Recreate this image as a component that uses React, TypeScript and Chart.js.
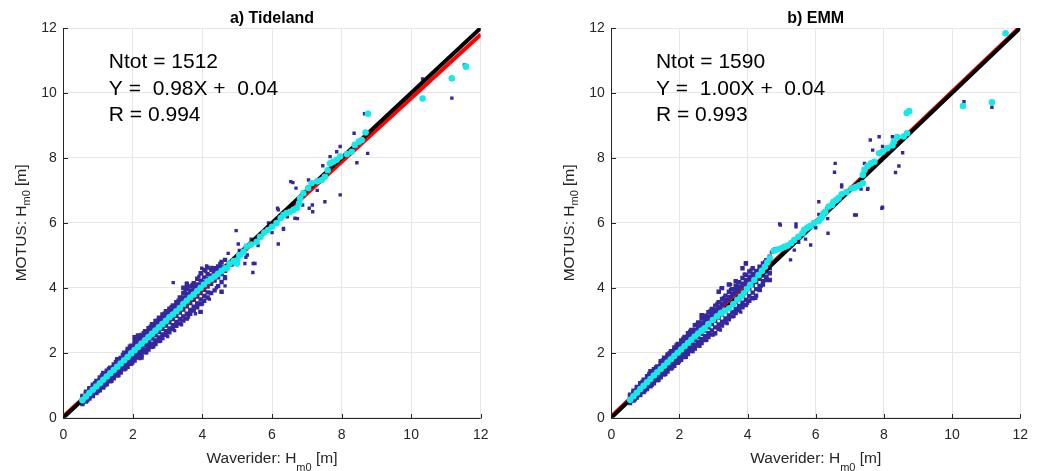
import React, { useEffect, useRef } from "react";
import { Chart, registerables } from "chart.js";

Chart.register(...registerables);

const FONT = '"Liberation Sans", Arial, Helvetica, sans-serif';

// ---- panel meta ----
const panelTitles = ["a) Tideland", "b) EMM"];
const sampleCounts = [1512, 1590];
const fitSlopes = [0.98, 1.0];
const fitIntercepts = [0.04, 0.04];
const correlations = [0.994, 0.993];
const axisTicks = [0, 2, 4, 6, 8, 10, 12];
const lineEnds = [0, 12];

type Band = [number, number[]][];
type Pts = [number, number][];

// ---- a) Tideland: dense cloud columns (x -> y values) ----
const tidelandBand: Band = [
  [0.55, [0.42, 0.46, 0.63, 0.67]],
  [0.65, [0.5, 0.55, 0.75, 0.8]],
  [0.75, [0.59, 0.64, 0.86, 0.91]],
  [0.85, [0.67, 0.74, 0.96, 1.02]],
  [0.95, [0.76, 0.84, 1.06, 1.13]],
  [1.05, [0.84, 0.94, 1.16, 1.24]],
  [1.15, [0.93, 1.04, 1.26, 1.34, 1.38]],
  [1.25, [1.03, 1.14, 1.36, 1.45]],
  [1.35, [1.12, 1.18, 1.25, 1.46, 1.54]],
  [1.45, [1.21, 1.27, 1.34, 1.56, 1.64]],
  [1.55, [1.3, 1.37, 1.44, 1.66, 1.74, 1.8]],
  [1.65, [1.39, 1.46, 1.54, 1.76, 1.84]],
  [1.75, [1.49, 1.56, 1.64, 1.87, 1.94, 2.0]],
  [1.85, [1.57, 1.66, 1.74, 1.97, 2.05, 2.12]],
  [1.95, [1.66, 1.75, 1.84, 2.07, 2.15, 2.22]],
  [2.05, [1.76, 1.85, 1.94, 2.17, 2.26, 2.36, 2.48]],
  [2.15, [1.85, 1.95, 2.04, 2.27, 2.36, 2.45, 2.53]],
  [2.25, [1.85, 1.94, 2.04, 2.14, 2.37, 2.46, 2.55]],
  [2.35, [2.01, 2.1, 2.24, 2.47, 2.56, 2.66]],
  [2.45, [2.1, 2.2, 2.34, 2.57, 2.66, 2.76]],
  [2.55, [2.18, 2.28, 2.44, 2.67, 2.77, 2.88]],
  [2.65, [2.27, 2.38, 2.54, 2.77, 2.87, 2.98]],
  [2.75, [2.36, 2.47, 2.64, 2.87, 2.97, 3.08]],
  [2.85, [2.45, 2.56, 2.74, 2.97, 3.07, 3.18]],
  [2.95, [2.55, 2.66, 2.84, 3.07, 3.17, 3.28]],
  [3.05, [2.63, 2.75, 2.94, 3.17, 3.27, 3.36]],
  [3.15, [2.73, 2.85, 3.04, 3.27, 3.37, 3.46]],
  [3.25, [2.83, 2.95, 3.14, 3.37, 3.47, 3.56]],
  [3.35, [2.9, 3.04, 3.24, 3.47, 3.57, 3.7]],
  [3.45, [2.99, 3.12, 3.33, 3.58, 3.7, 3.84, 4.0]],
  [3.55, [3.05, 3.2, 3.43, 3.68, 3.8, 3.95, 4.12]],
  [3.65, [3.2, 3.32, 3.53, 3.78, 3.9, 4.04]],
  [3.75, [3.3, 3.42, 3.63, 3.88, 4.0, 4.14]],
  [3.85, [3.4, 3.52, 3.73, 3.98, 4.1, 4.28]],
  [3.95, [3.26, 3.5, 3.64, 3.84, 4.08, 4.22, 4.45]],
  [4.05, [3.6, 3.75, 3.94, 4.18, 4.32, 4.55]],
  [4.15, [3.7, 3.86, 4.04, 4.28, 4.42, 4.62]],
  [4.25, [3.84, 4.12, 4.38, 4.56]],
  [4.35, [3.92, 4.22, 4.48, 4.6]],
  [4.45, [4.05, 4.32, 4.58, 4.66]],
  [4.55, [3.88, 4.18, 4.42, 4.66, 4.8]],
  [4.65, [4.3, 4.52, 4.86]],
];

const tidelandOutliers: Pts = [
  [3.16, 4.16], [3.5, 3.06], [3.4, 3.68], [3.64, 3.78], [3.55, 4.14], [3.55, 4.04], [3.79, 4.04],
  [3.93, 3.26], [3.98, 4.6], [3.98, 4.44], [4.27, 4.63], [4.27, 4.54], [4.31, 4.5], [4.45, 4.6],
  [4.12, 4.67], [4.55, 4.65], [4.55, 3.88], [4.65, 4.06], [4.65, 4.34], [4.74, 5.06], [4.85, 4.7],
  [4.97, 5.76], [5.03, 5.35], [5.06, 5.15], [5.22, 4.75], [5.25, 4.94], [5.29, 5.01], [5.46, 4.75],
  [5.45, 4.47], [5.51, 4.75], [5.82, 5.78], [5.6, 5.3], [5.7, 5.55], [5.9, 6.0], [6.0, 5.7],
  [5.4, 5.5], [6.18, 5.35], [6.33, 5.83], [6.33, 5.8], [6.16, 6.45], [6.18, 6.4], [6.44, 6.19],
  [6.66, 6.14], [6.73, 6.13], [6.54, 7.27], [6.69, 7.07], [6.6, 7.24], [6.88, 6.55], [7.07, 6.45],
  [7.16, 6.55], [7.17, 6.34], [7.52, 6.65], [7.96, 6.86], [7.05, 7.32], [7.46, 7.76], [7.67, 8.04],
  [7.86, 8.19], [7.96, 8.35], [8.36, 8.76], [8.44, 7.85], [8.75, 8.14], [8.66, 9.36], [7.3, 7.0],
  [7.8, 7.9], [10.33, 10.43], [11.17, 9.84], [11.53, 10.86],
  // ragged edge of the dense cloud
  [0.7, 0.52], [0.9, 1.08], [1.0, 0.8], [1.1, 1.32], [1.2, 0.98], [1.3, 1.52], [1.4, 1.12],
  [1.5, 1.73], [1.6, 1.3], [1.7, 1.95], [1.8, 1.5], [1.9, 2.2], [2.0, 1.68], [2.1, 2.5],
  [2.2, 1.82], [2.3, 2.62], [2.4, 2.0], [2.5, 2.82], [2.6, 2.18], [2.7, 3.0], [2.8, 2.36],
  [2.9, 3.22], [3.0, 2.5], [3.1, 3.42], [3.2, 2.68], [3.3, 3.62], [3.4, 2.86], [3.5, 3.9],
  [3.6, 3.1], [3.7, 4.1], [3.8, 3.2], [3.9, 4.35], [4.0, 3.5], [4.1, 4.5], [4.2, 3.65],
  [4.4, 4.0], [4.5, 4.75],
];

const tidelandQuantiles: Pts = [
  [0.55, 0.54], [0.65, 0.65], [0.75, 0.76], [0.85, 0.86], [0.95, 0.96], [1.05, 1.06], [1.15, 1.17],
  [1.25, 1.27], [1.35, 1.37], [1.45, 1.47], [1.55, 1.57], [1.65, 1.67], [1.75, 1.77], [1.85, 1.87],
  [1.95, 1.98], [2.05, 2.08], [2.15, 2.18], [2.25, 2.28], [2.35, 2.38], [2.45, 2.48], [2.55, 2.58],
  [2.65, 2.68], [2.75, 2.78], [2.85, 2.88], [2.95, 2.98], [3.05, 3.09], [3.15, 3.18], [3.25, 3.28],
  [3.35, 3.38], [3.45, 3.5], [3.55, 3.6], [3.65, 3.7], [3.75, 3.79], [3.85, 3.9], [3.95, 4.0],
  [4.05, 4.1], [4.15, 4.2], [4.25, 4.27], [4.35, 4.35], [4.45, 4.43], [4.55, 4.52], [4.65, 4.6],
  [4.7, 4.6], [4.78, 4.75], [4.9, 4.82], [4.99, 4.75], [5.06, 5.01], [5.0, 4.85], [5.08, 5.0],
  [5.18, 5.11], [5.27, 5.27], [5.4, 5.33], [5.56, 5.42], [5.66, 5.57], [5.78, 5.7], [5.89, 5.78],
  [6.0, 5.88], [6.13, 5.99], [6.25, 6.15], [6.33, 6.24], [6.42, 6.3], [6.52, 6.34], [6.62, 6.4],
  [6.71, 6.45], [6.78, 6.6], [6.81, 6.76], [6.9, 6.91], [7.04, 7.07], [7.14, 7.22], [7.3, 7.28],
  [7.43, 7.32], [7.52, 7.42], [7.6, 7.62], [7.67, 7.83], [7.76, 7.88], [7.86, 7.94], [7.96, 8.04],
  [8.15, 8.12], [8.29, 8.19], [8.38, 8.4], [8.5, 8.5], [8.58, 8.55], [8.69, 8.78], [8.76, 9.36],
  [10.33, 9.83], [11.17, 10.45], [11.58, 10.81],
];

// ---- b) EMM ----
const emmBand: Band = [
  [0.55, [0.45, 0.49, 0.67, 0.71]],
  [0.65, [0.53, 0.58, 0.78, 0.83]],
  [0.75, [0.62, 0.68, 0.89, 0.95]],
  [0.85, [0.7, 0.77, 0.99, 1.06]],
  [0.95, [0.79, 0.87, 1.1, 1.17]],
  [1.05, [0.88, 0.97, 1.2, 1.28]],
  [1.15, [0.97, 1.07, 1.3, 1.38, 1.43]],
  [1.25, [1.06, 1.17, 1.4, 1.49]],
  [1.35, [1.15, 1.21, 1.29, 1.5, 1.58]],
  [1.45, [1.24, 1.3, 1.38, 1.6, 1.68, 1.74]],
  [1.55, [1.33, 1.4, 1.48, 1.7, 1.78, 1.85]],
  [1.65, [1.42, 1.5, 1.58, 1.8, 1.88, 1.95]],
  [1.75, [1.51, 1.59, 1.68, 1.91, 1.98, 2.05]],
  [1.85, [1.6, 1.69, 1.78, 2.01, 2.09, 2.16]],
  [1.95, [1.69, 1.78, 1.88, 2.11, 2.19, 2.27]],
  [2.05, [1.78, 1.88, 1.98, 2.21, 2.29, 2.38]],
  [2.15, [1.87, 1.97, 2.08, 2.31, 2.39, 2.49]],
  [2.25, [1.96, 2.06, 2.18, 2.41, 2.5, 2.6]],
  [2.35, [2.05, 2.15, 2.28, 2.51, 2.6, 2.7]],
  [2.45, [2.13, 2.24, 2.38, 2.61, 2.71, 2.85]],
  [2.55, [2.22, 2.33, 2.48, 2.71, 2.81, 2.93]],
  [2.65, [2.3, 2.42, 2.58, 2.81, 2.92, 3.05, 3.16]],
  [2.75, [2.39, 2.51, 2.68, 2.91, 3.02, 3.14]],
  [2.85, [2.48, 2.6, 2.78, 3.01, 3.12, 3.25]],
  [2.95, [2.56, 2.69, 2.88, 3.11, 3.22, 3.35]],
  [3.05, [2.6, 2.78, 2.98, 3.21, 3.32, 3.45]],
  [3.15, [2.74, 2.87, 3.08, 3.31, 3.42, 3.56, 3.88]],
  [3.25, [2.84, 2.96, 3.18, 3.41, 3.52, 3.66, 3.99]],
  [3.35, [2.94, 3.06, 3.28, 3.51, 3.62, 3.76]],
  [3.45, [3.03, 3.15, 3.38, 3.61, 3.72, 3.88, 4.1]],
  [3.55, [3.12, 3.25, 3.48, 3.71, 3.83, 3.96]],
  [3.65, [3.22, 3.35, 3.58, 3.81, 3.93, 4.06, 4.2]],
  [3.75, [3.31, 3.44, 3.68, 3.91, 4.03, 4.17]],
  [3.85, [3.4, 3.54, 3.78, 4.01, 4.13, 4.3, 4.6]],
  [3.95, [3.47, 3.63, 3.88, 4.11, 4.24, 4.4, 4.75]],
  [4.05, [3.6, 3.74, 3.98, 4.21, 4.34, 4.5]],
  [4.15, [3.68, 3.85, 4.08, 4.31, 4.43, 4.6]],
  [4.25, [3.76, 3.96, 4.18, 4.41, 4.52]],
  [4.35, [3.93, 4.06, 4.28, 4.51, 4.65]],
  [4.45, [4.1, 4.2, 4.38, 4.61, 4.75]],
  [4.55, [4.24, 4.34, 4.5, 4.73, 4.85]],
  [4.65, [4.24, 4.45, 4.6, 4.85, 4.96]],
];

const emmOutliers: Pts = [
  [3.17, 3.88], [3.22, 3.99], [3.5, 4.1], [3.55, 3.96], [3.89, 3.47], [3.94, 4.75], [3.96, 4.77],
  [4.13, 3.68], [4.24, 3.68], [4.37, 3.93], [4.56, 4.34], [4.65, 4.24], [4.65, 4.45], [4.7, 5.1],
  [4.94, 5.97], [4.96, 5.93], [5.26, 4.86], [5.37, 5.16], [5.42, 5.97], [5.42, 5.88], [5.85, 5.32],
  [5.5, 5.4], [5.7, 5.5], [4.8, 5.2], [6.0, 5.85], [6.09, 6.65], [6.09, 6.26], [6.33, 6.45],
  [6.35, 6.13], [6.36, 5.68], [6.55, 7.56], [6.57, 7.83], [6.76, 7.11], [6.76, 7.17], [7.14, 6.24],
  [7.19, 6.24], [7.29, 7.32], [7.33, 7.04], [7.52, 7.03], [7.53, 7.06], [7.43, 7.83], [7.6, 8.55],
  [7.67, 8.24], [7.86, 8.65], [7.96, 8.35], [7.94, 6.45], [7.96, 6.48], [8.25, 8.65], [8.34, 7.55],
  [8.44, 7.75], [8.55, 8.16], [8.68, 9.37], [10.35, 9.73], [11.17, 9.56],
  // ragged edge of the dense cloud
  [0.7, 0.55], [0.9, 1.12], [1.0, 0.83], [1.1, 1.36], [1.2, 1.0], [1.3, 1.56], [1.4, 1.15],
  [1.5, 1.78], [1.6, 1.34], [1.7, 2.0], [1.8, 1.53], [1.9, 2.24], [2.0, 1.72], [2.1, 2.45],
  [2.2, 1.86], [2.3, 2.66], [2.4, 2.04], [2.5, 2.88], [2.6, 2.2], [2.7, 3.1], [2.8, 2.38],
  [2.9, 3.3], [3.0, 2.55], [3.1, 3.52], [3.2, 2.7], [3.3, 3.7], [3.4, 2.9], [3.5, 3.95],
  [3.6, 3.12], [3.7, 4.15], [3.8, 3.25], [3.9, 4.42], [4.0, 3.52], [4.1, 4.55], [4.2, 3.7],
  [4.4, 4.05], [4.5, 4.8],
];

const emmQuantiles: Pts = [
  [0.55, 0.55], [0.65, 0.66], [0.75, 0.77], [0.85, 0.88], [0.95, 0.98], [1.05, 1.09], [1.15, 1.19],
  [1.25, 1.3], [1.35, 1.4], [1.45, 1.5], [1.55, 1.6], [1.65, 1.7], [1.75, 1.8], [1.85, 1.9],
  [1.95, 2.0], [2.05, 2.1], [2.15, 2.2], [2.25, 2.3], [2.35, 2.4], [2.45, 2.5], [2.55, 2.59],
  [2.65, 2.68], [2.74, 2.75], [2.85, 2.88], [2.98, 3.01], [3.1, 3.12], [3.22, 3.22], [3.34, 3.3],
  [3.46, 3.37], [3.58, 3.5], [3.7, 3.63], [3.8, 3.73], [3.89, 3.83], [3.98, 3.96], [4.08, 4.09],
  [4.2, 4.24], [4.32, 4.39], [4.42, 4.52], [4.51, 4.65], [4.58, 4.78], [4.65, 4.91], [4.77, 5.14],
  [4.88, 5.18], [4.99, 5.22], [5.08, 5.26], [5.18, 5.3], [5.28, 5.38], [5.37, 5.47], [5.49, 5.57],
  [5.61, 5.68], [5.66, 5.78], [5.73, 5.83], [5.8, 5.88], [5.85, 5.9], [5.95, 5.99], [6.09, 6.06],
  [6.15, 6.14], [6.19, 6.19], [6.23, 6.3], [6.28, 6.34], [6.38, 6.5], [6.48, 6.55], [6.52, 6.65],
  [6.6, 6.7], [6.67, 6.76], [6.76, 6.88], [6.9, 6.95], [7.05, 7.06], [7.14, 7.08], [7.19, 7.11],
  [7.28, 7.16], [7.38, 7.22], [7.38, 7.47], [7.43, 7.63], [7.52, 7.75], [7.62, 7.83], [7.72, 7.88],
  [7.86, 8.14], [7.96, 8.19], [8.1, 8.3], [8.25, 8.38], [8.29, 8.49], [8.39, 8.64], [8.58, 8.66],
  [8.68, 8.76], [8.67, 9.38], [8.74, 9.44], [10.32, 9.6], [11.17, 9.71], [11.57, 11.84],
];

const panelBands = [tidelandBand, emmBand];
const panelOutliers = [tidelandOutliers, emmOutliers];
const panelQuantiles = [tidelandQuantiles, emmQuantiles];

// ---- styling / layout ----
const NAVY = "#36289c";
const CYAN = "#19e8e8";
const AXIS = "#262626";
const GRID = "#e6e6e6";
const H = 471;
const PLOT_TOP = 28;
const PLOT_BOTTOM = 417.7;
const GEOM = [
  { left: 0, width: 520, plotLeft: 63.3, plotRight: 480.7 },
  { left: 520, width: 517, plotLeft: 91.3, plotRight: 509 },
];

function drawSubLabel(
  ctx: CanvasRenderingContext2D,
  main: string,
  sub: string,
  tail: string,
  cx: number,
  baseline: number,
  subBaseline: number
) {
  const mainFont = `15.5px ${FONT}`;
  const subFont = `11px ${FONT}`;
  ctx.font = mainFont;
  const w1 = ctx.measureText(main).width;
  const w3 = ctx.measureText(tail).width;
  ctx.font = subFont;
  const w2 = ctx.measureText(sub).width;
  let x = cx - (w1 + w2 + w3) / 2;
  ctx.textAlign = "left";
  ctx.textBaseline = "alphabetic";
  ctx.font = mainFont;
  ctx.fillText(main, x, baseline);
  x += w1;
  ctx.font = subFont;
  ctx.fillText(sub, x, subBaseline);
  x += w2;
  ctx.font = mainFont;
  ctx.fillText(tail, x, baseline);
}

function Panel({ idx }: { idx: number }) {
  const ref = useRef<HTMLCanvasElement | null>(null);

  useEffect(() => {
    const canvas = ref.current;
    if (!canvas) return;
    const g = GEOM[idx];
    const dense = panelBands[idx].flatMap(([x, ys]) => ys.map((y) => ({ x, y })));
    const sparse = panelOutliers[idx].map(([x, y]) => ({ x, y }));
    const quant = panelQuantiles[idx].map(([x, y]) => ({ x, y }));
    const fitLine = lineEnds.map((x) => ({ x, y: fitSlopes[idx] * x + fitIntercepts[idx] }));
    const oneToOne = lineEnds.map((x) => ({ x, y: x }));

    const deco = {
      id: "deco" + idx,
      beforeDatasetsDraw(chart: any) {
        const { ctx, chartArea } = chart;
        const xs = chart.scales.x;
        const ys = chart.scales.y;
        const L = Math.round(chartArea.left) + 0.5;
        const B = Math.round(chartArea.bottom) + 0.5;
        ctx.save();
        ctx.strokeStyle = AXIS;
        ctx.lineWidth = 1;
        ctx.beginPath();
        ctx.moveTo(L, chartArea.top);
        ctx.lineTo(L, B);
        ctx.lineTo(chartArea.right, B);
        for (const v of axisTicks) {
          const px = Math.round(xs.getPixelForValue(v)) + 0.5;
          ctx.moveTo(px, B);
          ctx.lineTo(px, B - 4.5);
          const py = Math.round(ys.getPixelForValue(v)) + 0.5;
          ctx.moveTo(L, py);
          ctx.lineTo(L + 4.5, py);
        }
        ctx.stroke();
        ctx.restore();
      },
      afterDraw(chart: any) {
        const { ctx, chartArea } = chart;
        const xs = chart.scales.x;
        const cx = (chartArea.left + chartArea.right) / 2;
        const cy = (chartArea.top + chartArea.bottom) / 2;
        ctx.save();
        // title
        ctx.fillStyle = "#000";
        ctx.font = `bold 16px ${FONT}`;
        ctx.textAlign = "center";
        ctx.textBaseline = "alphabetic";
        ctx.fillText(panelTitles[idx], cx, 22.5);
        // annotation
        ctx.font = `21px ${FONT}`;
        ctx.textAlign = "left";
        const tx = xs.getPixelForValue(1.31);
        const lines = [
          `Ntot = ${sampleCounts[idx]}`,
          `Y =  ${fitSlopes[idx].toFixed(2)}X +  ${fitIntercepts[idx].toFixed(2)}`,
          `R = ${correlations[idx].toFixed(3)}`,
        ];
        const offs = [40, 67, 93];
        lines.forEach((t, i) => ctx.fillText(t, tx, chartArea.top + offs[i]));
        // x axis label
        ctx.fillStyle = AXIS;
        drawSubLabel(ctx, "Waverider: H", "m0", " [m]", cx, 463.3, 471);
        // y axis label (rotated)
        ctx.translate(g.plotLeft - 37.5, cy);
        ctx.rotate(-Math.PI / 2);
        drawSubLabel(ctx, "MOTUS: H", "m0", " [m]", 0, 0, 4.5);
        ctx.restore();
      },
    };

    const tickOpts = {
      font: { family: FONT, size: 14 },
      color: AXIS,
      maxRotation: 0,
      autoSkip: false,
    };

    const chart = new Chart(canvas, {
      type: "scatter",
      data: {
        datasets: [
          {
            label: "quantiles",
            data: quant,
            order: 0,
            pointStyle: "circle",
            pointRadius: 3.3,
            backgroundColor: CYAN,
            borderWidth: 0,
          },
          {
            label: "1:1",
            data: oneToOne,
            order: 1,
            showLine: true,
            borderColor: "#000000",
            borderWidth: 4,
            pointRadius: 0,
          },
          {
            label: "fit",
            data: fitLine,
            order: 2,
            showLine: true,
            borderColor: "#ff0000",
            borderWidth: 4,
            pointRadius: 0,
          },
          {
            label: "data (sparse)",
            data: sparse,
            order: 3,
            pointStyle: "rect",
            pointRadius: 2.4,
            backgroundColor: NAVY,
            borderWidth: 0,
          },
          {
            label: "data (dense)",
            data: dense,
            order: 4,
            pointStyle: "rect",
            pointRadius: 3.1,
            backgroundColor: NAVY,
            borderWidth: 0,
          },
        ],
      } as any,
      options: {
        responsive: false,
        animation: false,
        events: [],
        layout: {
          padding: { top: PLOT_TOP, right: g.width - g.plotRight, bottom: 0, left: 0 },
        },
        plugins: {
          legend: { display: false },
          tooltip: { enabled: false },
          title: { display: false },
        },
        scales: {
          x: {
            type: "linear",
            min: 0,
            max: 12,
            afterBuildTicks: (s: any) => {
              s.ticks = axisTicks.map((v) => ({ value: v }));
            },
            afterFit: (s: any) => {
              s.height = H - PLOT_BOTTOM;
            },
            ticks: { ...tickOpts, padding: 9 },
            grid: { color: GRID, lineWidth: 1, drawTicks: false },
            border: { display: false },
          },
          y: {
            type: "linear",
            min: 0,
            max: 12,
            afterBuildTicks: (s: any) => {
              s.ticks = axisTicks.map((v) => ({ value: v }));
            },
            afterFit: (s: any) => {
              s.width = g.plotLeft;
            },
            ticks: { ...tickOpts, padding: 6.5 },
            grid: { color: GRID, lineWidth: 1, drawTicks: false },
            border: { display: false },
          },
        },
      } as any,
      plugins: [deco],
    });
    return () => chart.destroy();
  }, [idx]);

  const g = GEOM[idx];
  return (
    <canvas
      ref={ref}
      width={g.width}
      height={H}
      style={{ position: "absolute", left: g.left, top: 0, width: g.width, height: H }}
    />
  );
}

export default function App() {
  return (
    <div
      style={{
        position: "fixed",
        left: 0,
        top: 0,
        width: 1037,
        height: H,
        background: "#ffffff",
        overflow: "hidden",
      }}
    >
      <Panel idx={0} />
      <Panel idx={1} />
    </div>
  );
}
